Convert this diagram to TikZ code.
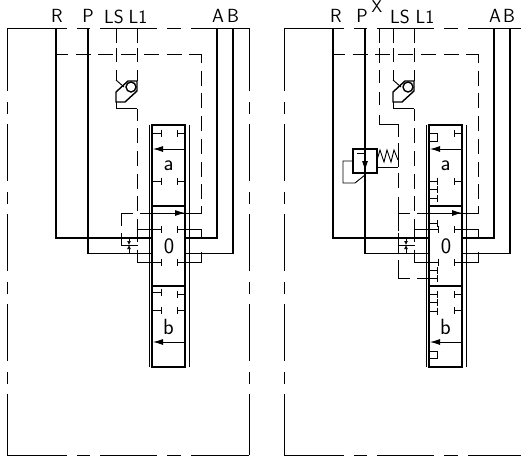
\documentclass[tikz,border=0pt]{standalone}
\usetikzlibrary{arrows.meta}
\begin{document}
\begin{tikzpicture}[x=1pt,y=-1pt,
        pipe/.style={line width=1.6pt},
        body/.style={line width=1.4pt},
        thinline/.style={line width=0.9pt},
        pilot/.style={line width=0.9pt,dash pattern=on 15pt off 7.7pt},
        tee/.style={line width=0.9pt,-{Bar[width=7pt,line width=0.9pt]}},
        flow/.style={line width=0.9pt,-{Latex[length=10pt,width=6pt]}},
        tag/.style={font=\fontsize{19}{19}\selectfont\sffamily,inner sep=0pt},
        side/.style={font=\fontsize{22}{22}\selectfont\sffamily,inner sep=0pt}]
    \useasboundingbox (0,0) rectangle (521,461);
    \clip (0,0) rectangle (521,461);
    \foreach \off in {0,277} {
        \begin{scope}[xshift=\off pt]
            % frame
            \foreach \a/\b in {7/67,77/90,100/157,167/181,191/249} {
                \draw[thinline] (\a,28) -- (\b,28);
                \draw[thinline] (\a,455) -- (\b,455);
            }
            \foreach \a/\b in {28/91,102/114,124/181,192/204,214/271,282/294,304/361,372/384,394/455} {
                \draw[thinline] (7,\a) -- (7,\b);
                \draw[thinline] (249,\a) -- (249,\b);
            }
            % ports
            \draw[pipe] (56,28) -- (56,238) -- (152,238);
            \draw[pipe] (88,28) -- (88,253.5) -- (152,253.5);
            \draw[pipe] (217,28) -- (217,238) -- (185,238);
            \draw[pipe] (233,28) -- (233,253.5) -- (185,253.5);
            % pilot lines
            \draw[pilot,dash phase=2pt] (55,54) -- (201,54);
            \draw[pilot,dash phase=6pt] (201,54) -- (201,206);
            \draw[thinline] (201,206) -- (201,213) -- (140,213);
            \draw[thinline] (133,213) -- (121,213) -- (121,226);
            \draw[thinline] (121,233) -- (121,245) -- (138,245);
            \foreach \x in {116,137} {
                \foreach \a/\b in {28/43,48/62,70/81} {
                    \draw[thinline] (\x,\a) -- (\x,\b);
                }
            }
            % shuttle valve
            \draw[thinline] (116,80) -- (124,87);
            \draw[body] (128,81) -- (137,81) -- (137,91) -- (125,102) -- (116,102) -- (116,92) -- cycle;
            \draw[body] (131,87) circle (5);
            \draw[thinline] (116,102) -- (116,108.5) -- (137,108.5);
            \draw[pilot,dash phase=3pt] (137,108.5) -- (137,229);
            \draw[thinline] (137,229) -- (137,242);
            \draw[thinline] (137,250) -- (137,262);
            % spool
            \draw[body] (152,125) rectangle (185,367);
            \draw[body] (152,206) -- (185,206);
            \draw[body] (152,286) -- (185,286);
            \draw[thinline] (149,125) -- (149,367);
            \draw[thinline] (189,125) -- (189,367);
            \draw[flow] (185,149) -- (153,149);
            \draw[flow] (140,213) -- (185,213);
            \draw[flow] (185,342) -- (153,342);
            \node[side] (sidea\off) at (168.5,166) {a};
            \node[side] (sidez\off) at (169,246) {0};
            \node[side] (sideb\off) at (168.5,327) {b};
            % ports of the spool
            \draw[tee] (185,133) -- (177,133);
            \draw[tee] (185,181) -- (177,181);
            \draw[tee] (185,294) -- (177,294);
            \draw[tee] (185,310.5) -- (177,310.5);
            \draw[tee] (137,229.5) -- (161.5,229.5);
            \draw[tee] (137,262) -- (161.5,262);
            \draw[tee] (201,238) -- (201,229.5) -- (177,229.5);
            \draw[tee] (201,252) -- (201,262) -- (177,262);
            % orifice
            \draw[line width=0.7pt,-{Latex[length=4pt,width=4pt]}] (129,238) -- (129,245);
            \draw[line width=0.7pt,-{Latex[length=4pt,width=4pt]}] (129,253.5) -- (129,245);
        \end{scope}
    }
    % ports of the plain spool
    \foreach \y in {133,181,292,310} {
        \draw[tee] (152,\y) -- (161.5,\y);
    }
    \node[tag] (portR) at (57,16) {R};
    \node[tag] (portP) at (88,16) {P};
    \node[tag] (portLS) at (114,16.5) {LS};
    \node[tag] (portLone) at (138,16.5) {L1};
    \node[tag] (portA) at (218,16) {A};
    \node[tag] (portB) at (233,16) {B};
    % second spool, with the extra valve
    \foreach \y in {181,189,198,223,270,278,294,302,311} {
        \draw[tee] (429,\y) -- (438,\y);
    }
    \draw[thinline] (429,133) -- (437,133) -- (437,141) -- (429,141);
    \draw[thinline] (429,351) -- (437,351) -- (437,358) -- (429,358);
    \foreach \a/\b in {28/43,48/63,70/83,92/105} {
        \draw[thinline] (379,\a) -- (379,\b);
    }
    \draw[thinline] (379,115) -- (379,124.5) -- (398,124.5) -- (398,137);
    \foreach \a/\b in {143/167,173/188,197/231,238/253} {
        \draw[thinline] (398,\a) -- (398,\b);
    }
    \draw[thinline] (398,260) -- (398,278) -- (410,278);
    \draw[tee] (417,278) -- (438,278);
    \draw[body] (353,149) rectangle (377,173);
    \draw[thinline] (357,153) -- (365,153);
    \draw[flow] (365,153) -- (365,171);
    \draw[thinline] (353,161) -- (343,161) -- (343,183) -- (355,183) -- (365,175);
    \draw[thinline] (377,160) -- (380,150) -- (384,162) -- (387,150) -- (391,162) -- (394,150) -- (398,160);
    \draw[thinline] (377,167.5) -- (398,167.5);
    \node[tag] (portRb) at (336,16) {R};
    \node[tag] (portPb) at (362,16) {P};
    \node[tag,font=\fontsize{17}{17}\selectfont\sffamily] (portX) at (377,6.5) {X};
    \node[tag] (portLSb) at (400,17) {LS};
    \node[tag] (portLoneb) at (425,17) {L1};
    \node[tag] (portAb) at (495,16) {A};
    \node[tag] (portBb) at (509,16) {B};
\end{tikzpicture}
\end{document}
